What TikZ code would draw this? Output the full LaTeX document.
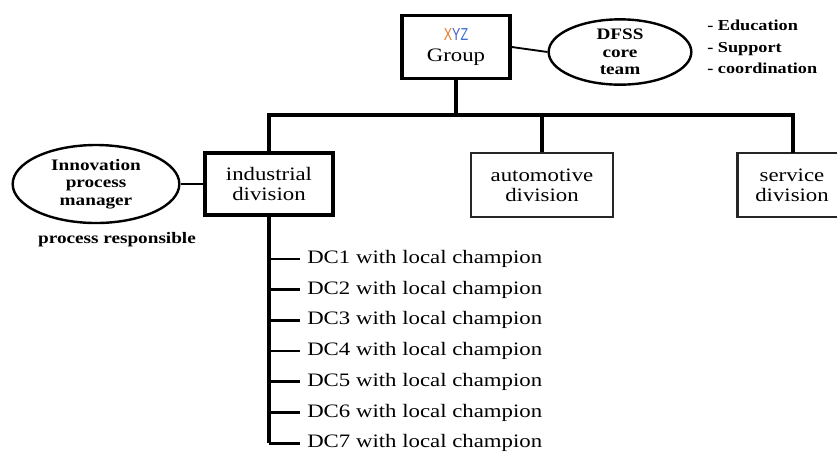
\documentclass[tikz,border=0pt]{standalone}
\usepackage{fontspec}
\setmainfont{Liberation Serif}[FakeStretch=1.2]
\newfontfamily\logofont{Liberation Sans}[FakeStretch=0.72]
\usepackage{xcolor}
\usepackage{tikz}
\usetikzlibrary{positioning,shapes.geometric,calc}

\definecolor{logoX}{RGB}{230,120,40}
\definecolor{logoY}{RGB}{70,90,200}
\definecolor{logoZ}{RGB}{60,110,210}

\begin{document}
\begin{tikzpicture}[x=0.75pt,y=-0.75pt,
  unit/.style={rectangle, draw=black, line width=2.6pt, align=center,
             inner sep=0pt, font=\fontsize{14.25}{15}\selectfont},
  divbox/.style={rectangle, draw=black!85, line width=1.8pt, align=center,
             inner sep=0pt, font=\fontsize{14.25}{15}\selectfont,
             minimum height=48pt},
  role/.style={ellipse, draw=black, line width=1.8pt, align=center,
             inner sep=0pt, font=\fontsize{12}{13}\selectfont\bfseries},
  note/.style={align=left, inner sep=0pt, font=\fontsize{11.4}{16}\selectfont\bfseries},
  dcitem/.style={anchor=west, inner sep=0pt, font=\fontsize{14.25}{15}\selectfont},
  tree/.style={line width=2.6pt, black},
  link/.style={line width=1.4pt, black},
  branch/.style={line width=2pt, black},
]
\useasboundingbox (0,0) rectangle (837,455);
\clip (0,0) rectangle (837,455);

% --- top level ---
\node[unit, minimum width=81pt, minimum height=47pt] (grp) at (456,47)
  {{\logofont\fontsize{13}{13}\selectfont\textcolor{logoX}{X}\textcolor{logoY}{Y}\textcolor{logoZ}{Z}}\\[1pt] Group};
\node[role, minimum width=107pt, minimum height=49pt] (dfss) at (620,52) {DFSS\\ core\\ team};
\node[note, anchor=west] (tasks) at (707,47) {- Education\\ - Support\\ - coordination};

% --- divisions ---
\node[unit, minimum width=96pt, minimum height=46.5pt] (ind) at (269,184) {industrial\\ division};
\node[divbox, minimum width=106.5pt] (auto) at (542,185) {automotive\\ division};
% service box runs off the right edge
\node[divbox, minimum width=100pt] (serv) at (804,185)
  {\hspace*{-18pt}service\\ \hspace*{-18pt}division};

% --- process manager ---
\node[role, minimum width=125pt, minimum height=58.5pt] (ipm) at (96,184) {Innovation\\ process\\ manager};
\node[note, font=\fontsize{12}{13}\selectfont\bfseries] (resp) at (117,240) {process responsible};

% --- design centres ---
\foreach \i in {1,...,7}
  \node[dcitem] (dc\i) at (307,{259+30.7*(\i-1)}) {DC\i{} with local champion};

% --- connectors ---
\coordinate (bus) at (456,115);
\coordinate (servtop) at (793,153);
\draw[link] (grp.east) -- (dfss.west);
\draw[link] (ipm.east) -- (ind.west);
\draw[tree] (grp.south) -- (bus);
\draw[tree] (ind.north) |- (servtop |- bus) -- (servtop);
\draw[tree] (auto.north) -- (auto.north |- bus);
\draw[tree] (ind.south) -- (ind.south |- dc7.west);
\foreach \i in {1,...,7}
  \draw[branch] (ind.south |- dc\i.west) -- ([xshift=-5pt]dc\i.west);

\end{tikzpicture}
\end{document}
